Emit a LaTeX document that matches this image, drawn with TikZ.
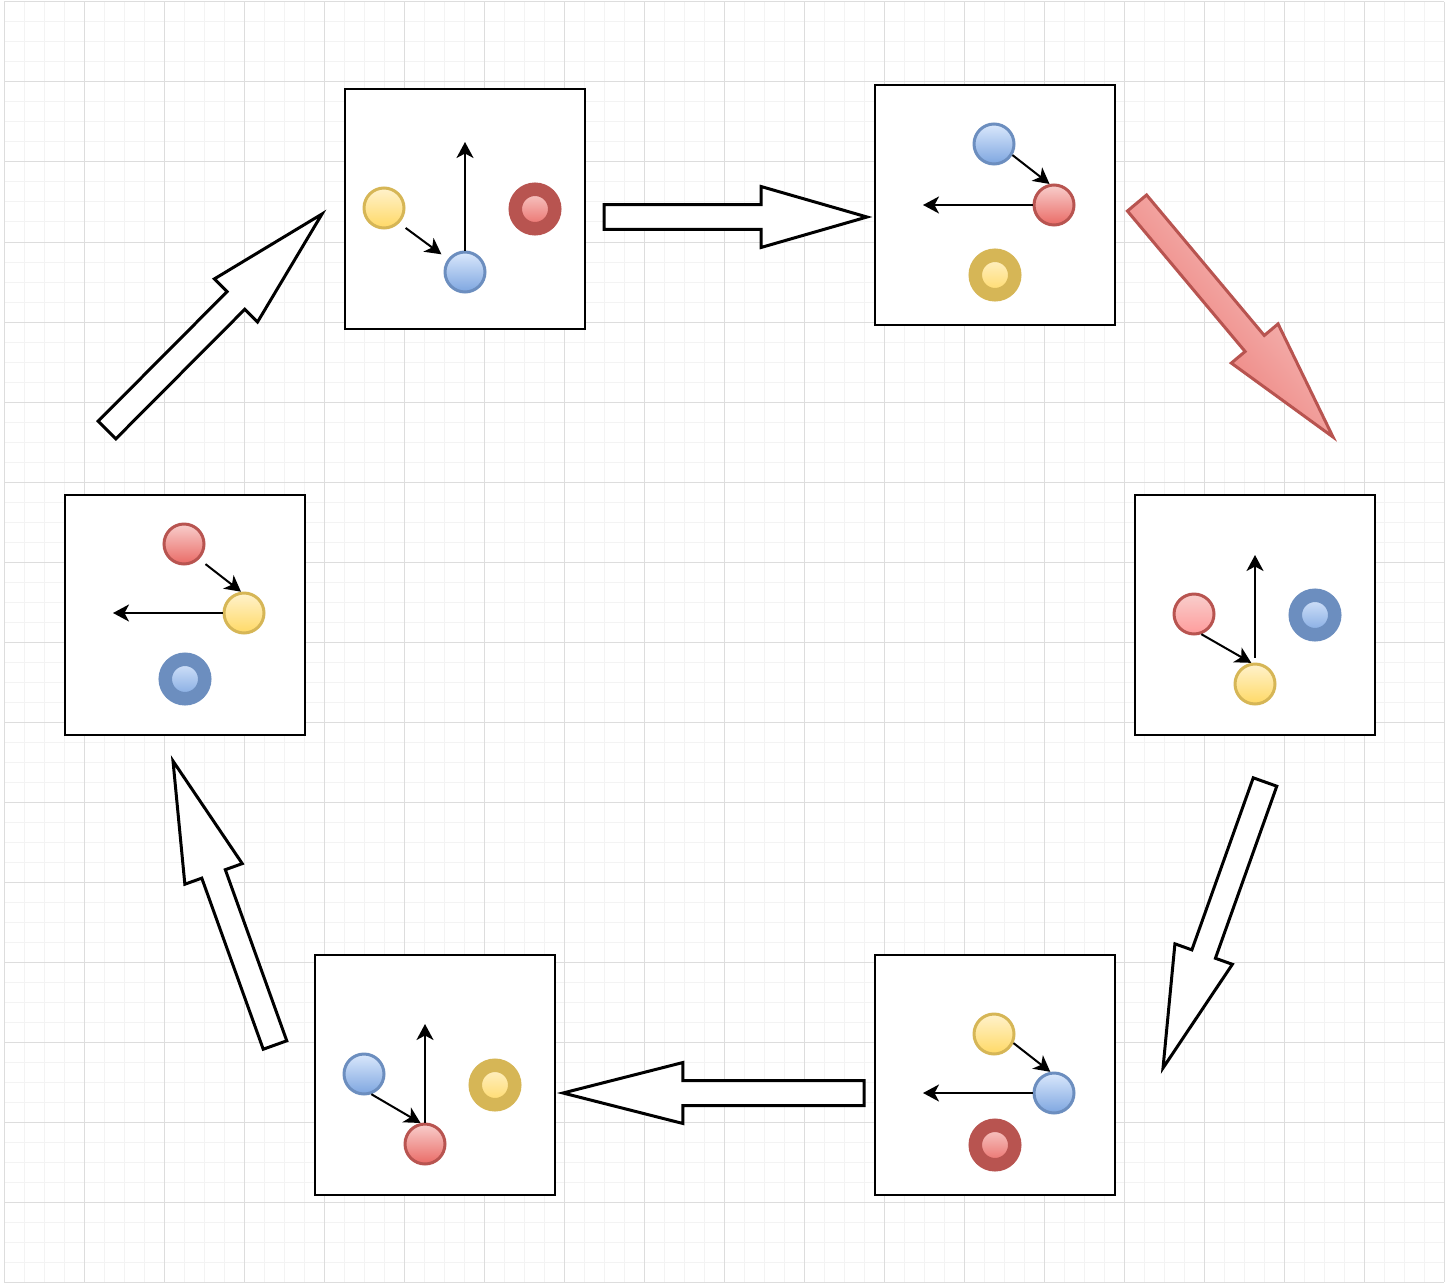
\documentclass[tikz,border=0pt]{standalone}
\usepackage{tikz}
\usetikzlibrary{calc,arrows.meta,positioning}
\definecolor{yelfill}{HTML}{FFF2CC}
\definecolor{yeldark}{HTML}{FFD966}
\definecolor{yelline}{HTML}{D6B656}
\definecolor{blufill}{HTML}{DAE8FC}
\definecolor{bludark}{HTML}{7EA6E0}
\definecolor{bluline}{HTML}{6C8EBF}
\definecolor{redfill}{HTML}{F8CECC}
\definecolor{reddark}{HTML}{EA6B66}
\definecolor{redline}{HTML}{B85450}
\definecolor{pinkdark}{HTML}{FF9C9C}
\definecolor{gridminor}{HTML}{F3F3F3}
\definecolor{gridmajor}{HTML}{DDDDDD}

\tikzset{
  minorline/.style={gridminor, line width=0.02cm},
  majorline/.style={gridmajor, line width=0.02cm},
  panel/.style={draw, line width=0.04cm, fill=white, minimum size=4.8cm, inner sep=0pt},
  ball/.style={circle, line width=0.06cm, minimum size=0.8cm, inner sep=0pt},
  ring/.style={circle, line width=0.27cm, minimum size=0.79cm, inner sep=0pt},
  ylw/.style={draw=yelline, top color=yelfill, bottom color=yeldark},
  blu/.style={draw=bluline, top color=blufill, bottom color=bludark},
  rd/.style={draw=redline, top color=redfill, bottom color=reddark},
  pnk/.style={draw=redline, top color=redfill, bottom color=pinkdark},
  move/.style={-{Stealth[length=0.32cm,width=0.34cm,inset=0.09cm]}, line width=0.04cm},
  bigarrow/.style={draw=black, fill=white, line width=0.06cm},
  hotarrow/.style={draw=redline, line width=0.06cm, top color=redfill, bottom color=reddark, shading angle=-50}
}

% #1 style, #2 tail, #3 tip, #4 head length
\newcommand{\blockarrow}[4]{
  \path ($(#3)!#4!(#2)$) coordinate (hb);
  \draw[#1] ($(#2)!0.25cm!90:(#3)$) -- ($(hb)!0.25cm!90:(#3)$) -- ($(hb)!0.61cm!90:(#3)$) -- (#3)
    -- ($(hb)!0.61cm!-90:(#3)$) -- ($(hb)!0.25cm!-90:(#3)$) -- ($(#2)!0.25cm!-90:(#3)$) -- cycle;
}

\begin{document}
\begin{tikzpicture}[x=0.02cm, y=-0.02cm]
\useasboundingbox (0,0) rectangle (1446,1284);
\fill[white] (0,0) rectangle (1446,1284);
\foreach \x in {4,24,...,1444} \draw[minorline] (\x,2)--(\x,1282);
\foreach \y in {2,22,...,1282} \draw[minorline] (4,\y)--(1444,\y);
\foreach \x in {4,84,...,1444} \draw[majorline] (\x,2)--(\x,1282);
\foreach \y in {2,82,...,1282} \draw[majorline] (4,\y)--(1444,\y);

% panels
\node[panel] (p1) at (465,209) {};
\node[panel] (p2) at (995,205) {};
\node[panel] (p3) at (1255,615) {};
\node[panel] (p4) at (995,1075) {};
\node[panel] (p5) at (435,1075) {};
\node[panel] (p6) at (185,615) {};

% panel 1
\node[ball,ylw] (y1) at (384,208) {};
\node[ball,blu] (b1) at (465,272) {};
\node[ring,rd] (r1) at (535,209) {};
\coordinate (u1) at (465,142);
\draw[move, shorten <=0.16cm, shorten >=0.16cm] (y1.-45) -- (b1.143);
\draw[move] (b1.north) -- (b1.north |- u1);

% panel 2
\node[ball,blu] (b2) at (994,144) {};
\node[ball,rd] (r2) at (1054,205) {};
\node[ring,ylw] (y2) at (995,275) {};
\coordinate (u2) at (923,205);
\draw[move] (b2.-31) -- (r2.102);
\draw[move] (r2.west) -- (r2.west -| u2);

% panel 3
\node[ball,pnk] (r3) at (1194,614) {};
\node[ball,ylw] (y3) at (1255,684) {};
\node[ring,blu] (b3) at (1315,615) {};
\coordinate (u3) at (1255,555);
\draw[move] (r3.-70) -- (y3.100);
\draw[move] ([yshift=0.1cm]y3.north) -- (y3.north |- u3);

% panel 4
\node[ball,ylw] (y4) at (994,1034) {};
\node[ball,blu] (b4) at (1054,1093) {};
\node[ring,rd] (r4) at (995,1145) {};
\coordinate (u4) at (923,1093);
\draw[move] (y4.-25) -- (b4.100);
\draw[move] (b4.west) -- (b4.west -| u4);

% panel 5
\node[ball,blu] (b5) at (364,1074) {};
\node[ball,rd] (r5) at (425,1144) {};
\node[ring,ylw] (y5) at (495,1085) {};
\coordinate (u5) at (425,1024);
\draw[move] (b5.-70) -- (r5.102);
\draw[move] (r5.north) -- (r5.north |- u5);

% panel 6
\node[ball,rd] (r6) at (184,544) {};
\node[ball,ylw] (y6) at (244,613) {};
\node[ring,blu] (b6) at (185,679) {};
\coordinate (u6) at (113,613);
\draw[move, shorten <=0.16cm] (r6.-45) -- (y6.98);
\draw[move] (y6.west) -- (y6.west -| u6);

% big arrows between panels
\coordinate (t1) at (604,217);    \coordinate (h1) at (867,217);
\coordinate (t2) at (1137,203);   \coordinate (h2) at (1333,437);
\coordinate (t3) at (1265,782);   \coordinate (h3) at (1163,1068);
\coordinate (t4) at (864,1093);   \coordinate (h4) at (563,1093);
\coordinate (t5) at (275,1045);   \coordinate (h5) at (173,761);
\coordinate (t6) at (107,430);    \coordinate (h6) at (322,214);
\blockarrow{bigarrow}{t1}{h1}{2.12cm}
\blockarrow{hotarrow}{t2}{h2}{2.44cm}
\blockarrow{bigarrow}{t3}{h3}{2.42cm}
\blockarrow{bigarrow}{t4}{h4}{2.4cm}
\blockarrow{bigarrow}{t5}{h5}{2.4cm}
\blockarrow{bigarrow}{t6}{h6}{2.44cm}
\end{tikzpicture}
\end{document}
